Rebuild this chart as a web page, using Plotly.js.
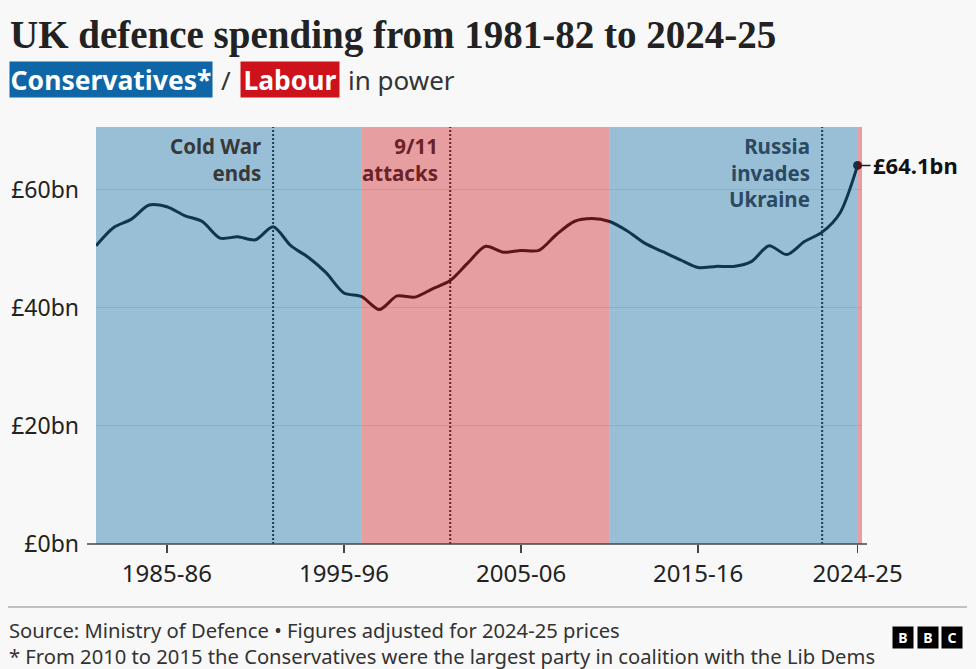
<!DOCTYPE html>
<html>
<head>
<meta charset="utf-8">
<script src="https://cdn.plot.ly/plotly-3.0.1.min.js"></script>
<style>
  html, body { margin: 0; padding: 0; background: #f8f8f8; }
  #chart { width: 976px; height: 669px; }
</style>
</head>
<body>
<div id="chart"></div>
<script>
// UK defence spending, £bn in 2024-25 prices
var years = ['1981-82', '1982-83', '1983-84', '1984-85', '1985-86', '1986-87', '1987-88', '1988-89',
             '1989-90', '1990-91', '1991-92', '1992-93', '1993-94', '1994-95', '1995-96', '1996-97',
             '1997-98', '1998-99', '1999-00', '2000-01', '2001-02', '2002-03', '2003-04', '2004-05',
             '2005-06', '2006-07', '2007-08', '2008-09', '2009-10', '2010-11', '2011-12', '2012-13',
             '2013-14', '2014-15', '2015-16', '2016-17', '2017-18', '2018-19', '2019-20', '2020-21',
             '2021-22', '2022-23', '2023-24', '2024-25'];
var spending = [50.5, 53.6, 55.0, 57.4, 57.1, 55.6, 54.6, 51.8,
                52.0, 51.5, 53.7, 50.5, 48.5, 45.9, 42.5, 41.9,
                39.7, 42.0, 41.8, 43.2, 44.6, 47.6, 50.4, 49.4,
                49.7, 49.7, 52.4, 54.6, 55.1, 54.6, 53.0, 50.9,
                49.5, 48.1, 46.8, 47.0, 47.0, 47.8, 50.5, 49.0,
                51.2, 52.8, 56.0, 64.1];
var tickYears = ['1985-86', '1995-96', '2005-06', '2015-16', '2024-25'];
var yTicks = [0, 20, 40, 60];
var yTickLabels = ['£0bn', '£20bn', '£40bn', '£60bn'];

// party in power: [first year, last year] shaded
var conservativeSpans = [['1981-82', '1996-97'], ['2010-11', '2024-25']];
var labourSpans = [['1996-97', '2010-11'], ['2024-25', null]];

var events = ['Cold War<br>ends', '9/11<br>attacks', 'Russia<br>invades<br>Ukraine'];
var eventYears = ['1991-92', '2001-02', '2022-23'];
var eventColors = ['#383838', '#6a2227', '#2b4a62'];

var xs = years.map(function (y, i) { return i; });
var xEnd = years.length - 1 + 0.25;

// plot area in pixels, used to place the furniture around it
var L = 96, R = 862, T = 127, B = 544;
function px(x) { return (x - L) / (R - L); }
function py(y) { return (B - y) / (B - T); }

var shapes = [];
eventYears.forEach(function (y) {
  var i = years.indexOf(y);
  shapes.push({type: 'line', layer: 'above', xref: 'x', yref: 'paper', x0: i, x1: i, y0: 0, y1: 1,
               line: {color: '#222', width: 2, dash: '2px,2px'}});
});
function band(span, color) {
  var a = years.indexOf(span[0]);
  var b = span[1] === null ? xEnd : years.indexOf(span[1]);
  shapes.push({type: 'rect', layer: 'above', xref: 'x', yref: 'paper', x0: a, x1: b, y0: 0, y1: 1,
               fillcolor: color, opacity: 0.4, line: {width: 0}});
}
conservativeSpans.forEach(function (s) { band(s, '#0a6aa6'); });
labourSpans.forEach(function (s) { band(s, '#cd161e'); });
// axis line, running a little past the plot
shapes.push({type: 'line', layer: 'above', xref: 'paper', yref: 'paper', x0: px(87), x1: px(867), y0: 0, y1: 0,
             line: {color: '#444', width: 1.5}});
// footer rule
shapes.push({type: 'line', xref: 'paper', yref: 'paper', x0: px(8), x1: px(967), y0: py(607), y1: py(607),
             line: {color: '#8a8a8a', width: 1}});

var annotations = [];
events.forEach(function (t, k) {
  annotations.push({text: '<b>' + t + '</b>', x: years.indexOf(eventYears[k]), xref: 'x', xanchor: 'right',
                    xshift: -10, y: 1, yref: 'paper', yanchor: 'top', yshift: -3, showarrow: false, align: 'right',
                    font: {family: 'Noto Sans', size: 20.5, color: eventColors[k]}});
});
var last = years.length - 1;
annotations.push({text: '<b>£' + spending[last].toFixed(1) + 'bn</b>', x: last, y: spending[last],
                  xref: 'x', yref: 'y', xanchor: 'left', yanchor: 'middle', showarrow: true, arrowhead: 0,
                  arrowwidth: 1.5, arrowcolor: '#222', ax: 13, ay: 0, standoff: 4,
                  font: {family: 'Noto Sans', size: 22, color: '#111'}});

// subtitle: party badges
annotations.push({text: '<b>Conservatives*</b>', xref: 'paper', yref: 'paper', x: px(111), y: py(79.5),
                  xanchor: 'center', yanchor: 'middle', showarrow: false, bgcolor: '#0f66a6',
                  width: 200, height: 33, borderpad: 1, font: {family: 'Noto Sans', size: 26.5, color: '#fff'}});
annotations.push({text: '/', xref: 'paper', yref: 'paper', x: px(226), y: py(79.5),
                  xanchor: 'center', yanchor: 'middle', showarrow: false,
                  font: {family: 'Noto Sans', size: 26, color: '#333'}});
annotations.push({text: '<b>Labour</b>', xref: 'paper', yref: 'paper', x: px(290), y: py(79.5),
                  xanchor: 'center', yanchor: 'middle', showarrow: false, bgcolor: '#cd121b',
                  width: 96, height: 33, borderpad: 1, font: {family: 'Noto Sans', size: 26.5, color: '#fff'}});
annotations.push({text: 'in power', xref: 'paper', yref: 'paper', x: px(346), y: py(79.5),
                  xanchor: 'left', yanchor: 'middle', showarrow: false,
                  font: {family: 'Noto Sans', size: 26, color: '#333'}});

// footer
annotations.push({text: 'Source: Ministry of Defence \u2022 Figures adjusted for 2024-25 prices<br>' +
                        '* From 2010 to 2015 the Conservatives were the largest party in coalition with the Lib Dems',
                  xref: 'paper', yref: 'paper', x: px(7), y: py(614), xanchor: 'left', yanchor: 'top',
                  align: 'left', showarrow: false, font: {family: 'Noto Sans', size: 20.2, color: '#333'}});
['B', 'B', 'C'].forEach(function (c, k) {
  annotations.push({text: '<b>' + c + '</b>', xref: 'paper', yref: 'paper', x: px(903 + k * 24.5), y: py(637.5),
                    xanchor: 'center', yanchor: 'middle', showarrow: false, bgcolor: '#000',
                    width: 20, height: 21, borderpad: 0, font: {family: 'Noto Sans', size: 14, color: '#fff'}});
});

var data = [
  {type: 'scatter', mode: 'lines', x: xs, y: spending, line: {color: '#141414', width: 3, shape: 'spline', smoothing: 0.8},
   hoverinfo: 'skip', showlegend: false},
  {type: 'scatter', mode: 'markers', x: [last], y: [spending[last]], marker: {color: '#1a1010', size: 9},
   hoverinfo: 'skip', showlegend: false, cliponaxis: false}
];

var layout = {
  width: 976, height: 669,
  margin: {l: L, r: 976 - R, t: T, b: 669 - B},
  paper_bgcolor: '#f8f8f8', plot_bgcolor: '#f8f8f8',
  title: {text: '<b>UK defence spending from 1981-82 to 2024-25</b>', xref: 'container', yref: 'container',
          x: 10 / 976, xanchor: 'left', y: 1 - 34 / 669, yanchor: 'middle',
          font: {family: 'Liberation Serif', size: 39, color: '#222'}},
  xaxis: {range: [0, xEnd], showgrid: false, zeroline: false, showline: false,
          tickvals: tickYears.map(function (y) { return years.indexOf(y); }), ticktext: tickYears,
          ticks: 'outside', ticklen: 8, tickwidth: 1.5, tickcolor: '#444', ticklabelstandoff: 0,
          tickfont: {family: 'Noto Sans', size: 24, color: '#222'}},
  yaxis: {range: [0, 70.6], showgrid: true, gridcolor: '#e2e2e2', gridwidth: 1, zeroline: false, showline: false,
          tickvals: yTicks, ticktext: yTickLabels, ticks: '', ticklabelstandoff: 16,
          tickfont: {family: 'Noto Sans', size: 23, color: '#222'}},
  shapes: shapes,
  annotations: annotations,
  hovermode: false
};

Plotly.newPlot('chart', data, layout, {displayModeBar: false, staticPlot: true});
</script>
</body>
</html>
